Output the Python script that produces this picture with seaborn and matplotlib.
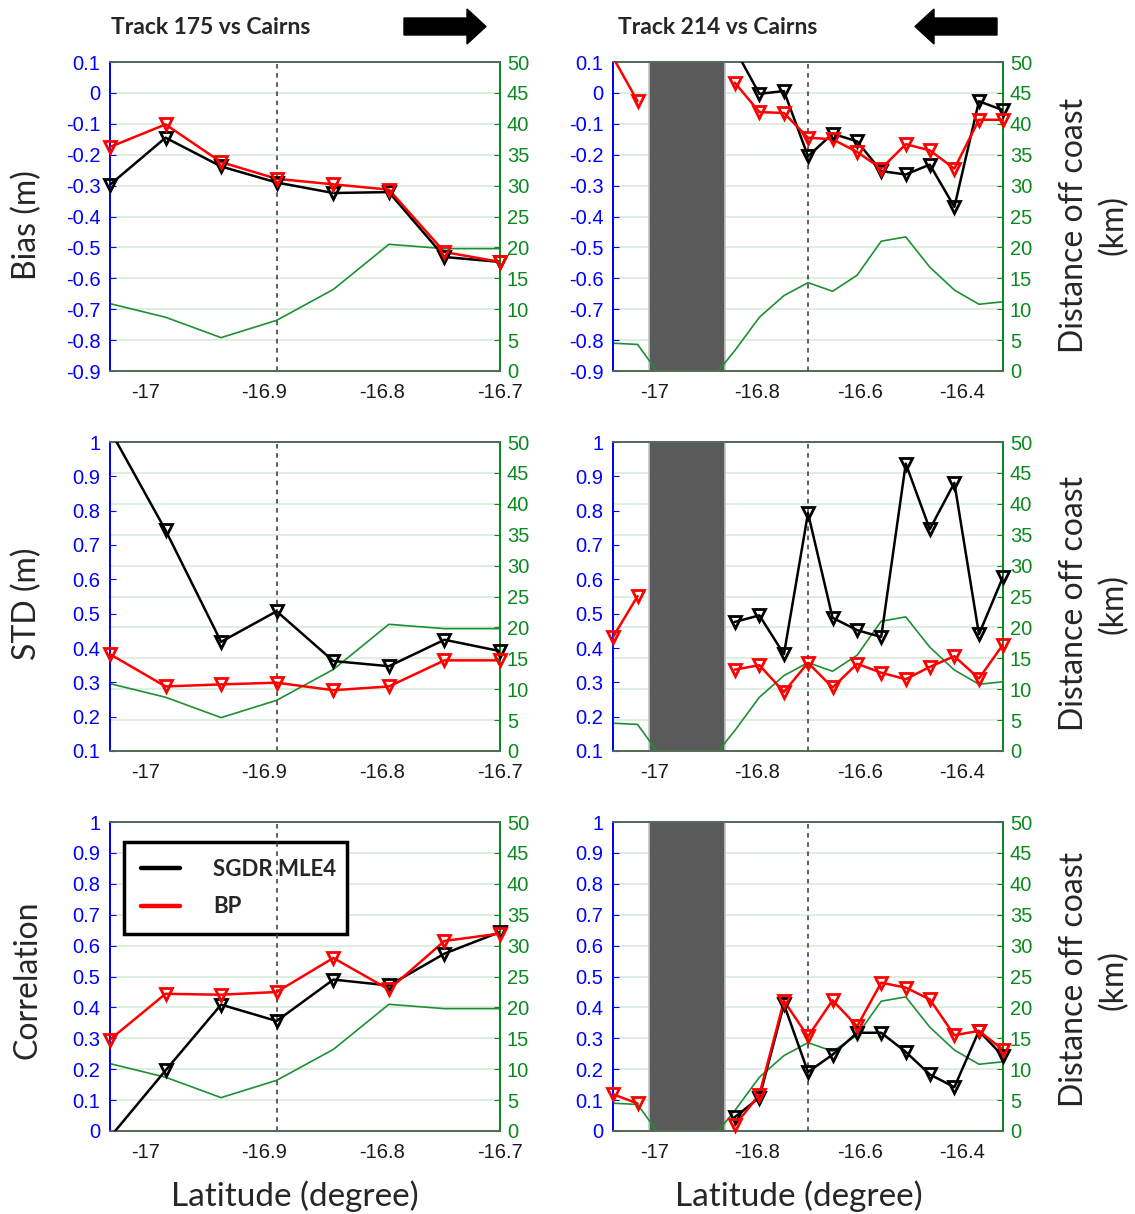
import numpy as np
import pandas as pd
import matplotlib
matplotlib.use("Agg")
import matplotlib.pyplot as plt
from matplotlib.lines import Line2D
from matplotlib.patches import Polygon
import seaborn as sns

nan = np.nan

# ---- Track 175 vs Cairns -------------------------------------------------
lat_175 = [-17.030, -16.983, -16.936, -16.889, -16.841, -16.794, -16.747, -16.700]
dist_175 = [10.9, 8.7, 5.4, 8.2, 13.2, 20.5, 19.8, 19.8]

bias_175_mle4 = [-0.297, -0.145, -0.238, -0.290, -0.324, -0.321, -0.531, -0.547]
bias_175_bp = [-0.175, -0.102, -0.224, -0.278, -0.296, -0.313, -0.515, -0.547]
std_175_mle4 = [1.035, 0.743, 0.418, 0.507, 0.362, 0.347, 0.424, 0.391]
std_175_bp = [0.382, 0.288, 0.294, 0.299, 0.277, 0.288, 0.364, 0.364]
corr_175_mle4 = [-0.02, 0.196, 0.409, 0.356, 0.490, 0.471, 0.574, 0.644]
corr_175_bp = [0.296, 0.444, 0.441, 0.450, 0.560, 0.458, 0.615, 0.639]
gauge_lat_175 = -16.889

# ---- Track 214 vs Cairns -------------------------------------------------
lat_214 = [-17.082, -17.034, -16.986, -16.939, -16.891, -16.844, -16.796, -16.748,
           -16.701, -16.653, -16.605, -16.558, -16.510, -16.463, -16.415, -16.367, -16.320]
dist_214 = [4.5, 4.3, -1.2, -3.0, -1.5, 3.3, 8.7, 12.2, 14.3, 12.9, 15.5, 21.0, 21.7,
            16.8, 13.1, 10.8, 11.2]

bias_214_mle4 = [nan, nan, nan, nan, nan, 0.142, -0.003, 0.006, -0.205, -0.132, -0.157,
                 -0.253, -0.264, -0.232, -0.369, -0.027, -0.056]
bias_214_bp = [0.115, -0.027, nan, nan, nan, 0.033, -0.062, -0.065, -0.145, -0.150, -0.191,
               -0.245, -0.166, -0.186, -0.245, -0.087, -0.087]
std_214_mle4 = [nan, nan, nan, nan, nan, 0.476, 0.495, 0.382, 0.793, 0.488, 0.452, 0.432,
                0.937, 0.746, 0.881, 0.440, 0.607]
std_214_bp = [0.432, 0.551, nan, nan, nan, 0.337, 0.350, 0.272, 0.357, 0.285, 0.354, 0.328,
              0.309, 0.345, 0.376, 0.311, 0.410]
corr_214_mle4 = [nan, nan, nan, nan, nan, 0.045, 0.108, 0.410, 0.191, 0.247, 0.318, 0.318,
                 0.256, 0.183, 0.142, 0.324, 0.242]
corr_214_bp = [0.119, 0.089, nan, nan, nan, 0.018, 0.118, 0.421, 0.306, 0.423, 0.339, 0.480,
               0.464, 0.426, 0.310, 0.324, 0.263]
gauge_lat_214 = -16.701
land_214 = (-17.011, -16.863)

# ---- axis ticks ----------------------------------------------------------
xticks_175 = [-17.0, -16.9, -16.8, -16.7]
xticklabels_175 = ["-17", "-16.9", "-16.8", "-16.7"]
xticks_214 = [-17.0, -16.8, -16.6, -16.4]
xticklabels_214 = ["-17", "-16.8", "-16.6", "-16.4"]

bias_ticks = [-0.9, -0.8, -0.7, -0.6, -0.5, -0.4, -0.3, -0.2, -0.1, 0.0, 0.1]
bias_ticklabels = ["-0.9", "-0.8", "-0.7", "-0.6", "-0.5", "-0.4", "-0.3", "-0.2", "-0.1", "0", "0.1"]
std_ticks = [0.1, 0.2, 0.3, 0.4, 0.5, 0.6, 0.7, 0.8, 0.9, 1.0]
std_ticklabels = ["0.1", "0.2", "0.3", "0.4", "0.5", "0.6", "0.7", "0.8", "0.9", "1"]
corr_ticks = [0.0, 0.1, 0.2, 0.3, 0.4, 0.5, 0.6, 0.7, 0.8, 0.9, 1.0]
corr_ticklabels = ["0", "0.1", "0.2", "0.3", "0.4", "0.5", "0.6", "0.7", "0.8", "0.9", "1"]
dist_ticks = [0, 5, 10, 15, 20, 25, 30, 35, 40, 45, 50]
dist_ticklabels = ["0", "5", "10", "15", "20", "25", "30", "35", "40", "45", "50"]

series_names = ["SGDR MLE4", "BP"]

# ---- style ---------------------------------------------------------------
W, H = 1135, 1214
sns.set_style("white")
plt.rcParams["font.family"] = ["Liberation Sans", "DejaVu Sans"]
LABEL_FONT = ["Lato", "DejaVu Sans"]

BLUE = "#0000ff"
GREEN = "#0a8a1e"
DIST_LINE = "#1e8f34"
GRID = "#d6ebd6"
FRAME = "#566b56"
MLE4 = "black"
BP = "#ff0000"
LAND = "#5a5a5a"
TICK_SIZE = 14.5
YLABEL_SIZE = 23
XLABEL_SIZE = 24

fig = plt.figure(figsize=(W / 100, H / 100), dpi=100)


def px_rect(x0, y0, x1, y1):
    return [x0 / W, 1 - y1 / H, (x1 - x0) / W, (y1 - y0) / H]


def draw_series(ax, lat, vals, color, ylim):
    df = pd.DataFrame({"lat": lat, "val": vals})
    df["seg"] = df["val"].isna().cumsum()
    df = df.dropna()
    # connecting line, clipped to the axes
    sns.lineplot(data=df, x="lat", y="val", units="seg", estimator=None, sort=False,
                 color=color, linewidth=1.8, legend=False, ax=ax, zorder=3)
    # open down-triangles at every sample that lies inside the value range
    inside = df[(df["val"] >= ylim[0] - 1e-9) & (df["val"] <= ylim[1] + 1e-9)]
    sns.lineplot(data=inside, x="lat", y="val", units="seg", estimator=None, sort=False,
                 color=color, linestyle="", marker="v", markersize=8.5,
                 markerfacecolor="none", markeredgecolor=color, markeredgewidth=2.0,
                 legend=False, ax=ax, zorder=4, clip_on=False)


def panel(rect, lat, dist, mle4, bp, yticks, ytl, xticks, xtl, gauge, land=None):
    ax = fig.add_axes(rect)
    ax2 = ax.twinx()
    ax.set_zorder(ax2.get_zorder() + 1)
    ax.patch.set_visible(False)
    ax2.patch.set_visible(True)
    ax2.patch.set_facecolor("white")

    # distance to coast on the right axis, drawn underneath
    if land is not None:
        ax2.axvspan(land[0], land[1], facecolor=LAND, edgecolor="#c4c4c4", lw=1.2, zorder=1)
    sns.lineplot(x=lat, y=dist, ax=ax2, color=DIST_LINE, linewidth=1.2, zorder=2)
    ax2.set_ylim(0, 50)
    ax2.set_yticks(dist_ticks)
    ax2.set_yticklabels(dist_ticklabels)
    ax2.set_axisbelow(True)
    ax2.yaxis.grid(True, color=GRID, lw=1.1)
    ax2.set_ylabel("")
    ax2.tick_params(axis="y", direction="in", length=4, color=GREEN, labelcolor=GREEN,
                    labelsize=TICK_SIZE, pad=5)

    ylim = (yticks[0], yticks[-1])
    ax.axvline(gauge, color="#333333", lw=1.1, ls=(0, (3, 3)), zorder=2)
    draw_series(ax, lat, mle4, MLE4, ylim)
    draw_series(ax, lat, bp, BP, ylim)
    ax.set_xlim(lat[0], lat[-1])
    ax.set_ylim(*ylim)
    ax.set_yticks(yticks)
    ax.set_yticklabels(ytl)
    ax.set_xticks(xticks)
    ax.set_xticklabels(xtl)
    ax.set_xlabel("")
    ax.set_ylabel("")
    ax.grid(False)
    ax.tick_params(axis="y", direction="in", length=4, color=BLUE, labelcolor=BLUE,
                   labelsize=TICK_SIZE, pad=7)
    ax.tick_params(axis="x", direction="in", length=4, color=FRAME, labelcolor="#1a1a1a",
                   labelsize=TICK_SIZE, pad=9)
    for a in (ax, ax2):
        a.spines["left"].set_color(BLUE)
        a.spines["right"].set_color(GREEN)
        a.spines["top"].set_color(FRAME)
        a.spines["bottom"].set_color(FRAME)
        for s in a.spines.values():
            s.set_linewidth(1.3)
            s.set_visible(True)
    return ax, ax2


rows = [
    (62, 371, "Bias (m)", bias_ticks, bias_ticklabels,
     bias_175_mle4, bias_175_bp, bias_214_mle4, bias_214_bp, 0.472),
    (442, 751, "STD (m)", std_ticks, std_ticklabels,
     std_175_mle4, std_175_bp, std_214_mle4, std_214_bp, 0.476),
    (822, 1131, "Correlation", corr_ticks, corr_ticklabels,
     corr_175_mle4, corr_175_bp, corr_214_mle4, corr_214_bp, 0.49),
]

for i, (y0, y1, ylab, yt, ytl, l_m, l_b, r_m, r_b, ly) in enumerate(rows):
    axl, _ = panel(px_rect(110, y0, 500, y1), lat_175, dist_175, l_m, l_b, yt, ytl,
                   xticks_175, xticklabels_175, gauge_lat_175)
    axr, axr2 = panel(px_rect(613, y0, 1003, y1), lat_214, dist_214, r_m, r_b, yt, ytl,
                      xticks_214, xticklabels_214, gauge_lat_214, land=land_214)
    axl.set_ylabel(ylab, fontsize=YLABEL_SIZE, family=LABEL_FONT)
    axl.yaxis.set_label_coords(-0.174, ly)
    axr2.set_ylabel("Distance off coast\n(km)", fontsize=YLABEL_SIZE, family=LABEL_FONT,
                    linespacing=1.35)
    axr2.yaxis.set_label_coords(1.144, ly)
    if i == 2:
        for a, xc in ((axl, 0.474), (axr, 0.476)):
            a.set_xlabel("Latitude (degree)", fontsize=XLABEL_SIZE, family=LABEL_FONT)
            a.xaxis.set_label_coords(xc, -0.16)
        handles = [Line2D([], [], color=MLE4, lw=3.2), Line2D([], [], color=BP, lw=3.2)]
        leg = axl.legend(handles, series_names, loc="upper left",
                         bbox_to_anchor=(0.036, 0.641, 0.572, 0.294), mode="expand",
                         frameon=True, fancybox=False, edgecolor="black", framealpha=1,
                         prop=dict(family=LABEL_FONT, weight="bold", size=16),
                         handlelength=1.75, handletextpad=1.5, borderpad=0.75,
                         labelspacing=0.75, borderaxespad=0)
        leg.get_frame().set_linewidth(2.5)
        leg.set_zorder(1.5)

# ---- titles and travel-direction arrows -----------------------------------
fig.text(111 / W, 1 - 27 / H, "Track 175 vs Cairns", fontsize=16.5, fontweight="bold",
         family=LABEL_FONT, ha="left", va="center")
fig.text(618 / W, 1 - 27 / H, "Track 214 vs Cairns", fontsize=16.5, fontweight="bold",
         family=LABEL_FONT, ha="left", va="center")


def arrow(tail_x, base_x, tip_x):
    pts = [(tail_x, 18), (base_x, 18), (base_x, 9), (tip_x, 26.5), (base_x, 44),
           (base_x, 35), (tail_x, 35)]
    fig.patches.append(Polygon([(x / W, 1 - y / H) for x, y in pts], closed=True,
                               facecolor="black", edgecolor="black",
                               transform=fig.transFigure, figure=fig))


arrow(404, 467, 486)
arrow(997, 934, 915)

fig.savefig("out.png", dpi=100)
